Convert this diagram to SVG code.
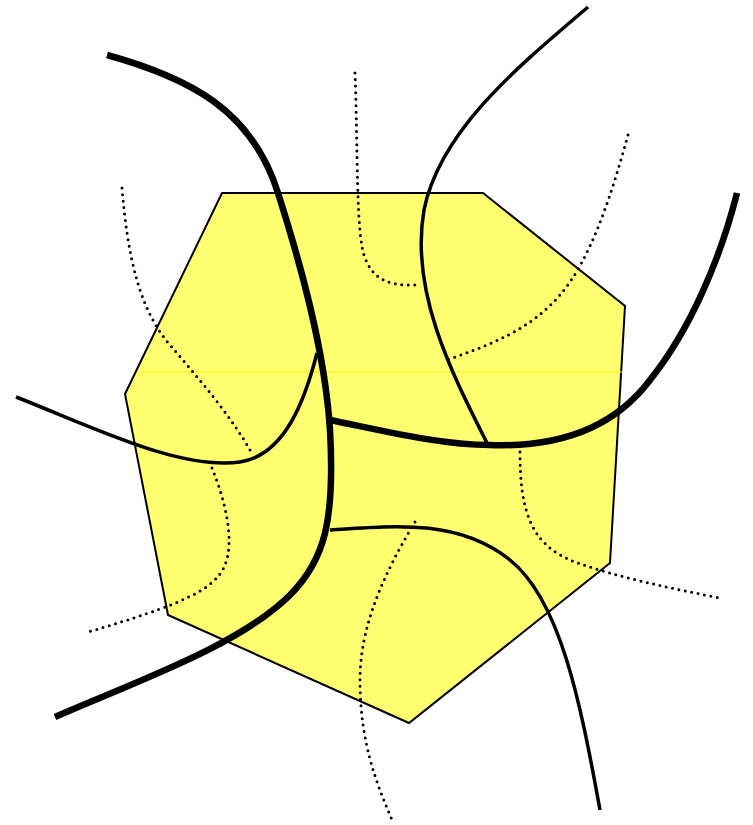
<svg xmlns="http://www.w3.org/2000/svg" width="753" height="825" viewBox="0 0 753 825">
<style>
.thick{fill:none;stroke:#000;stroke-width:6.5}
.med{fill:none;stroke:#000;stroke-width:3.5}
.dot{fill:none;stroke:#000;stroke-width:3;stroke-linecap:round;stroke-dasharray:0 6.5}
</style>
<rect width="753" height="825" fill="#fff"/>
<g id="region">
<polygon points="222,193 483,193 625,306 610,563 409,723 168,615 125,394" fill="#ffff70" stroke="#000" stroke-width="2"/>
<line x1="141" y1="372" x2="622" y2="372" stroke="#f5f000" stroke-width="1"/>
</g>
<g id="connectors">
<path class="dot" d="M355,73 C358,150 356,230 364,255 C372,280 390,286 415,285"/>
<path class="dot" d="M628,135 C610,200 590,260 560,295 C530,330 490,345 447,360"/>
<path class="dot" d="M122,188 C128,260 140,310 170,345 C200,380 230,415 250,450"/>
<path class="dot" d="M212,468 C225,500 235,540 225,565 C215,590 180,605 88,632"/>
<path class="dot" d="M520,452 C520,510 530,545 575,562 C620,578 670,588 720,598"/>
<path class="dot" d="M415,522 C380,580 360,630 360,680 C360,740 375,780 392,820"/>
<path class="thick" d="M107,55 C190,78 252,110 278,193 C300,262 325,350 330,430 C335,520 325,560 290,595 C240,645 140,680 55,717"/>
<path class="thick" d="M330,420 C380,430 440,445 490,445 C570,448 620,420 650,380 C690,330 720,260 737,193"/>
<path class="med" d="M16,397 C100,430 180,470 240,462 C285,455 305,400 317,353"/>
<path class="med" d="M588,7 C520,65 440,130 424,210 C410,290 450,370 487,443"/>
<path class="med" d="M330,530 C400,525 460,520 510,560 C560,600 580,700 600,810"/>
</g>
</svg>
